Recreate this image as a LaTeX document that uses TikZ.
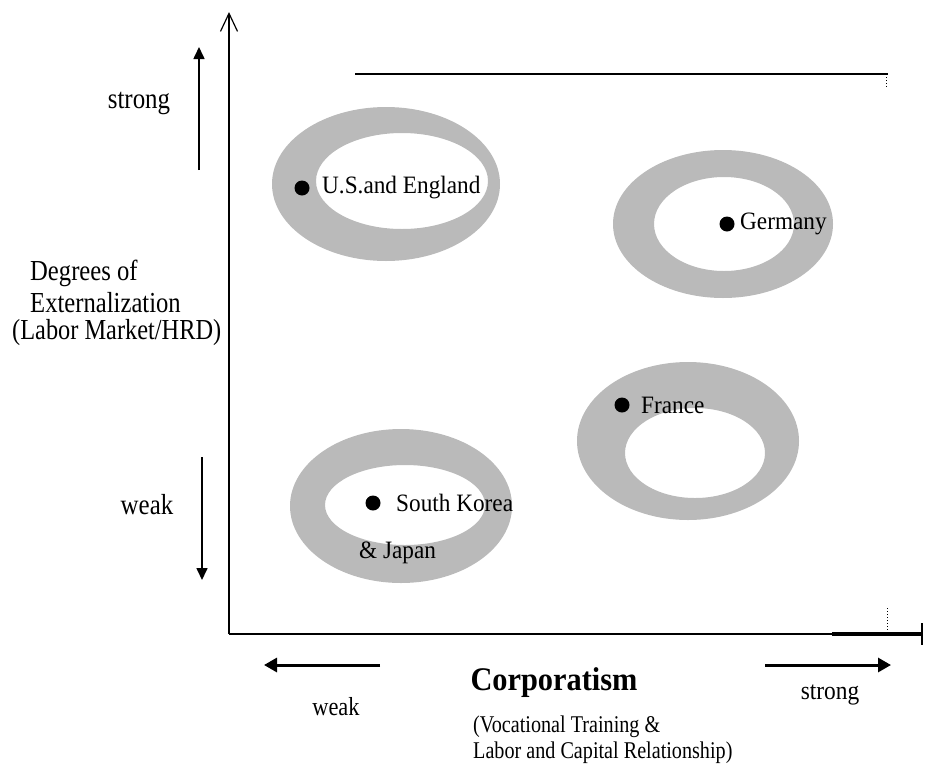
\documentclass[tikz,border=0pt]{standalone}
\usepackage{fontspec}
\usepackage{graphicx}
\setmainfont{Liberation Serif}
\usetikzlibrary{arrows.meta}
\newcommand\condense[2]{\scalebox{#1}[1]{#2}}
\tikzset{
  ring/.style={fill=black!27, even odd rule},
  dotmark/.style={circle, fill=black, inner sep=0pt, minimum size=15pt},
  lbl/.style={font=\fontsize{25}{28}\selectfont, inner sep=0pt, anchor=west},
  sidetxt/.style={font=\fontsize{29}{32}\selectfont, inner sep=0pt},
  subtxt/.style={font=\fontsize{24}{27}\selectfont, inner sep=0pt, anchor=west},
  axisline/.style={line width=2.2pt},
  smallarrow/.style={line width=1.6pt, -{Triangle[length=12pt,width=11pt]}},
  bigarrow/.style={line width=3pt, -{Triangle[length=13pt,width=14pt]}},
}
\begin{document}
\begin{tikzpicture}[x=1pt,y=-1pt]
\useasboundingbox (0,0) rectangle (925,766);

% rings
\fill[ring] (386,184) ellipse [x radius=114, y radius=77] (402,181) ellipse [x radius=86, y radius=48];
\fill[ring] (723,224) ellipse [x radius=110, y radius=74] (724,224) ellipse [x radius=70, y radius=47];
\fill[ring] (688,441) ellipse [x radius=111, y radius=79] (695,453) ellipse [x radius=70, y radius=45];
\fill[ring] (401,506) ellipse [x radius=111, y radius=77] (405,505) ellipse [x radius=80, y radius=40];

% frame remnants
\draw[line width=1.2pt] (355,74) -- (888,74);
\draw[dotted, line width=1pt] (886,74) -- (886,88);
\draw[dotted, line width=1pt] (887,608) -- (887,632);

% axes
\coordinate (O) at (229,634);
\coordinate (ytop) at (229,12);
\coordinate (xend) at (922,634);
\coordinate (xthick) at (832,634);
\coordinate (barT) at (922,623);
\coordinate (barB) at (922,645);
\draw[axisline, -{Straight Barb[length=18pt,width=17pt,line width=1.2pt]}] (O) -- (ytop);
\draw[axisline] (O) -- (xend);
\draw[line width=3.4pt] (xthick) -- (xend);
\draw[line width=1.6pt] (barT) -- (barB);

% side arrows
\coordinate (ua0) at (199,170);
\coordinate (ua1) at (199,47);
\coordinate (da0) at (202,457);
\coordinate (da1) at (202,580);
\draw[smallarrow] (ua0) -- (ua1);
\draw[smallarrow] (da0) -- (da1);
\coordinate (la0) at (380,665);
\coordinate (la1) at (264,665);
\coordinate (ra0) at (765,665);
\coordinate (ra1) at (891,665);
\draw[bigarrow] (la0) -- (la1);
\draw[bigarrow] (ra0) -- (ra1);

% countries
\node[dotmark] (usdot) at (302,188) {};
\node[lbl] (us) at (322,188) {\condense{0.93}{U.S.and England}};
\node[dotmark] (dedot) at (727,224) {};
\node[lbl] (de) at (740,224) {\condense{0.93}{Germany}};
\node[dotmark] (frdot) at (622,405) {};
\node[lbl] (fr) at (641,405) {\condense{0.93}{France}};
\node[dotmark] (krdot) at (373,503) {};
\node[lbl] (kr) at (396,503) {\condense{0.93}{South Korea}};
\node[lbl] (jp) at (359,553) {\condense{0.93}{\&\ Japan}};

% left labels
\node[sidetxt] (ystrong) at (139,103) {\condense{0.86}{strong}};
\node[sidetxt] (yweak) at (147,505) {\condense{0.86}{weak}};
\node[sidetxt, anchor=west] (yl1) at (30,273) {\condense{0.85}{Degrees of}};
\node[sidetxt, anchor=west] (yl2) at (30,303) {\condense{0.85}{Externalization}};
\node[sidetxt, anchor=west] (yl3) at (12,333) {\condense{0.84}{(Labor Market/HRD)}};

% bottom labels
\node[font=\bfseries\fontsize{33}{36}\selectfont, inner sep=0pt] (corp) at (554,683) {\condense{0.92}{Corporatism}};
\node[subtxt] (sub1) at (473,727) {\condense{0.84}{(Vocational Training \&}};
\node[subtxt] (sub2) at (473,753) {\condense{0.84}{Labor and Capital Relationship)}};
\node[font=\fontsize{26}{29}\selectfont, inner sep=0pt] (xweak) at (336,707) {\condense{0.86}{weak}};
\node[font=\fontsize{26}{29}\selectfont, inner sep=0pt] (xstrong) at (830,695) {\condense{0.9}{strong}};
\end{tikzpicture}
\end{document}
